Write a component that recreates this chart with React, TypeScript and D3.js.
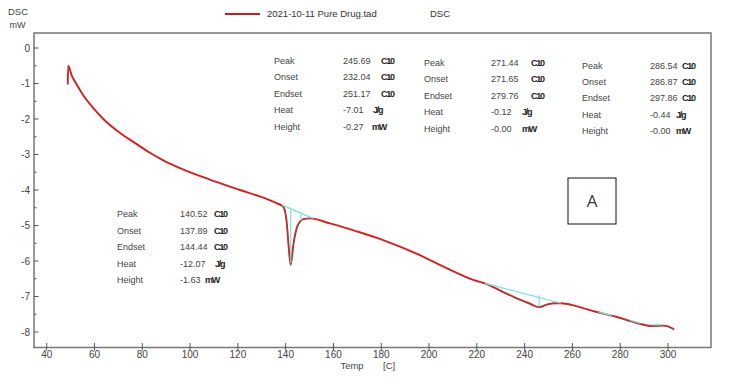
import React from "react";
import * as d3 from "d3";

// ---- data ----
const temps = [48.8, 49.0, 50.5, 52.3, 55.3, 58.8, 63.7, 70.0, 77.0, 83.2, 89.0, 95.0, 108.0, 120.9, 132.0, 136.9, 139.0, 140.4, 141.1, 142.1, 143.2, 144.6, 146.0, 147.4, 150.2, 158.5, 170.0, 180.8, 195.0, 206.7, 218.8, 223.4, 230.0, 236.0, 241.8, 246.1, 249.6, 253.1, 255.2, 261.5, 269.8, 278.2, 286.6, 293.5, 298.4, 301.9, 302.6];
const dsc = [-1.03, -0.5, -0.78, -1.0, -1.33, -1.64, -2.0, -2.36, -2.68, -2.95, -3.17, -3.36, -3.70, -4.0, -4.25, -4.39, -4.47, -4.89, -5.46, -6.11, -5.55, -5.08, -4.89, -4.82, -4.80, -4.94, -5.17, -5.41, -5.80, -6.18, -6.54, -6.63, -6.84, -7.03, -7.19, -7.30, -7.22, -7.19, -7.19, -7.27, -7.43, -7.57, -7.74, -7.83, -7.82, -7.90, -7.93];

const xTicks = [40, 60, 80, 100, 120, 140, 160, 180, 200, 220, 240, 260, 280, 300];
const yTicks = [0, -1, -2, -3, -4, -5, -6, -7, -8];
const yMinor = [-0.5, -1.5, -2.5, -3.5, -4.5, -5.5, -6.5, -7.5];

// baselines (cyan) [T, v]
const baseline1 = [[138.3, -4.42], [151.5, -4.80]];
const baseline2 = [[223.4, -6.63], [255.2, -7.19]];
const peakMarks = [
  [[142.1, -4.56], [142.1, -6.05]],
  [[146.2, -4.68], [146.6, -4.86]],
  [[246.1, -6.96], [246.1, -7.28]],
  [[271.0, -7.44], [276.5, -7.53]],
  [[284.0, -7.67], [288.5, -7.76]],
  [[293.0, -7.80], [297.5, -7.80]],
];

const seriesName = "2021-10-11 Pure Drug.tad";
const tableLabels = ["Peak", "Onset", "Endset", "Heat", "Height"];
const units = ["C10", "C10", "C10", "J/g", "mW"];
const table1 = ["245.69", "232.04", "251.17", "-7.01", "-0.27"];
const table2 = ["271.44", "271.65", "279.76", "-0.12", "-0.00"];
const table3 = ["286.54", "286.87", "297.86", "-0.44", "-0.00"];
const table4 = ["140.52", "137.89", "144.44", "-12.07", "-1.63"];

const font = "'Liberation Sans', Arial, sans-serif";

export default function App() {
  const x = d3.scaleLinear().domain([40, 300]).range([46.7, 668]);
  const y = d3.scaleLinear().domain([0, -8]).range([48, 332]);
  const pts: [number, number][] = temps.map((t, i) => [t, dsc[i]]);
  const line = d3
    .line<[number, number]>()
    .x((d) => x(d[0]))
    .y((d) => y(d[1]))
    .curve(d3.curveMonotoneX);
  const seg = (a: number, b: number) => line(pts.filter((p) => p[0] >= a && p[0] <= b)) || "";
  const straight = d3.line<number[]>().x((d) => x(d[0])).y((d) => y(d[1]));

  const frame = { l: 34, t: 33, r: 711, b: 347.5 };

  const tables = [
    { vals: table1, lx: 274, vx: 343, ys: [61, 77, 93.5, 110, 126.5], uxh: [381, 381, 381, 373, 372] },
    { vals: table2, lx: 424, vx: 491, ys: [62.5, 79, 95.5, 112, 128.5], uxh: [531, 531, 531, 522, 522] },
    { vals: table3, lx: 582, vx: 650, ys: [66, 81.5, 98, 114.5, 131], uxh: [682, 682, 682, 676, 676] },
    { vals: table4, lx: 117, vx: 180, ys: [214, 230.5, 247, 264, 280], uxh: [214, 214, 214, 215, 205] },
  ];

  return (
    <svg width={729} height={383} style={{ position: "absolute", left: 0, top: 0, background: "#fff" }} fontFamily={font}>
      <rect x={0} y={0} width={729} height={383} fill="#fff" />
      {/* axis titles */}
      <text x={8} y={15} fontSize={9.5} fill="#444">DSC</text>
      <text x={9.5} y={27.5} fontSize={9} fill="#444">mW</text>
      <text x={352} y={369} fontSize={9.5} fill="#444" textAnchor="middle">Temp</text>
      <text x={383} y={369} fontSize={9.5} fill="#444">[C]</text>

      {/* legend */}
      <line x1={225} x2={260} y1={14} y2={14} stroke="#c41e1e" strokeWidth={2} />
      <text x={267} y={17} fontSize={9.5} fill="#333">{seriesName}</text>
      <text x={430} y={17} fontSize={9.5} fill="#333">DSC</text>

      {/* frame */}
      <rect x={frame.l} y={frame.t} width={frame.r - frame.l} height={frame.b - frame.t} fill="none" stroke="#777" strokeWidth={1.5} />

      {/* y ticks */}
      {yTicks.map((v) => (
        <g key={"y" + v}>
          <line x1={frame.l} x2={frame.l + 4.5} y1={y(v)} y2={y(v)} stroke="#555" strokeWidth={1} />
          <text x={30} y={y(v) + 3.5} fontSize={10} fill="#444" textAnchor="end">{v}</text>
        </g>
      ))}
      {yMinor.map((v) => (
        <line key={"ym" + v} x1={frame.l} x2={frame.l + 2.5} y1={y(v)} y2={y(v)} stroke="#555" strokeWidth={1} />
      ))}
      {/* x ticks */}
      {xTicks.map((t) => (
        <g key={"x" + t}>
          <line x1={x(t)} x2={x(t)} y1={frame.b - 4.5} y2={frame.b + 3} stroke="#555" strokeWidth={1} />
          <text x={x(t)} y={358} fontSize={10} fill="#444" textAnchor="middle">{t}</text>
        </g>
      ))}

      {/* curve */}
      <path d={line(pts) || ""} fill="none" stroke="#d02222" strokeWidth={1.9} />
      {/* gray dashed overlays */}
      {[seg(137, 153), seg(224, 257), seg(262, 302)].map((d, i) => (
        <path key={"g" + i} d={d} fill="none" stroke="#666" strokeWidth={1.1} strokeDasharray="3,3" opacity={0.75} />
      ))}
      {/* baselines */}
      <path d={straight(baseline1) || ""} stroke="#77e0e0" strokeWidth={1.2} fill="none" />
      <path d={straight(baseline2) || ""} stroke="#77e0e0" strokeWidth={1.2} fill="none" />
      {peakMarks.map((m, i) => (
        <path key={"pm" + i} d={straight(m) || ""} stroke="#77e0e0" strokeWidth={1.2} fill="none" />
      ))}

      {/* tables */}
      {tables.map((tb, ti) => (
        <g key={"t" + ti} fontSize={9}>
          {tableLabels.map((lab, i) => (
            <g key={lab}>
              <text x={tb.lx} y={tb.ys[i] + 3} fill="#444">{lab}</text>
              <text x={tb.vx} y={tb.ys[i] + 3} fill="#444">{tb.vals[i]}</text>
              <text x={tb.uxh[i]} y={tb.ys[i] + 3} fill="#222" fontWeight="bold" letterSpacing={-1.2}>{units[i]}</text>
            </g>
          ))}
        </g>
      ))}

      {/* label box */}
      <rect x={568} y={178} width={48} height={46} fill="#fff" stroke="#111" strokeWidth={1} />
      <text x={592} y={207} fontSize={17} fill="#3a3a3a" textAnchor="middle" fontFamily="'Open Sans', 'Liberation Sans', sans-serif">A</text>
    </svg>
  );
}
